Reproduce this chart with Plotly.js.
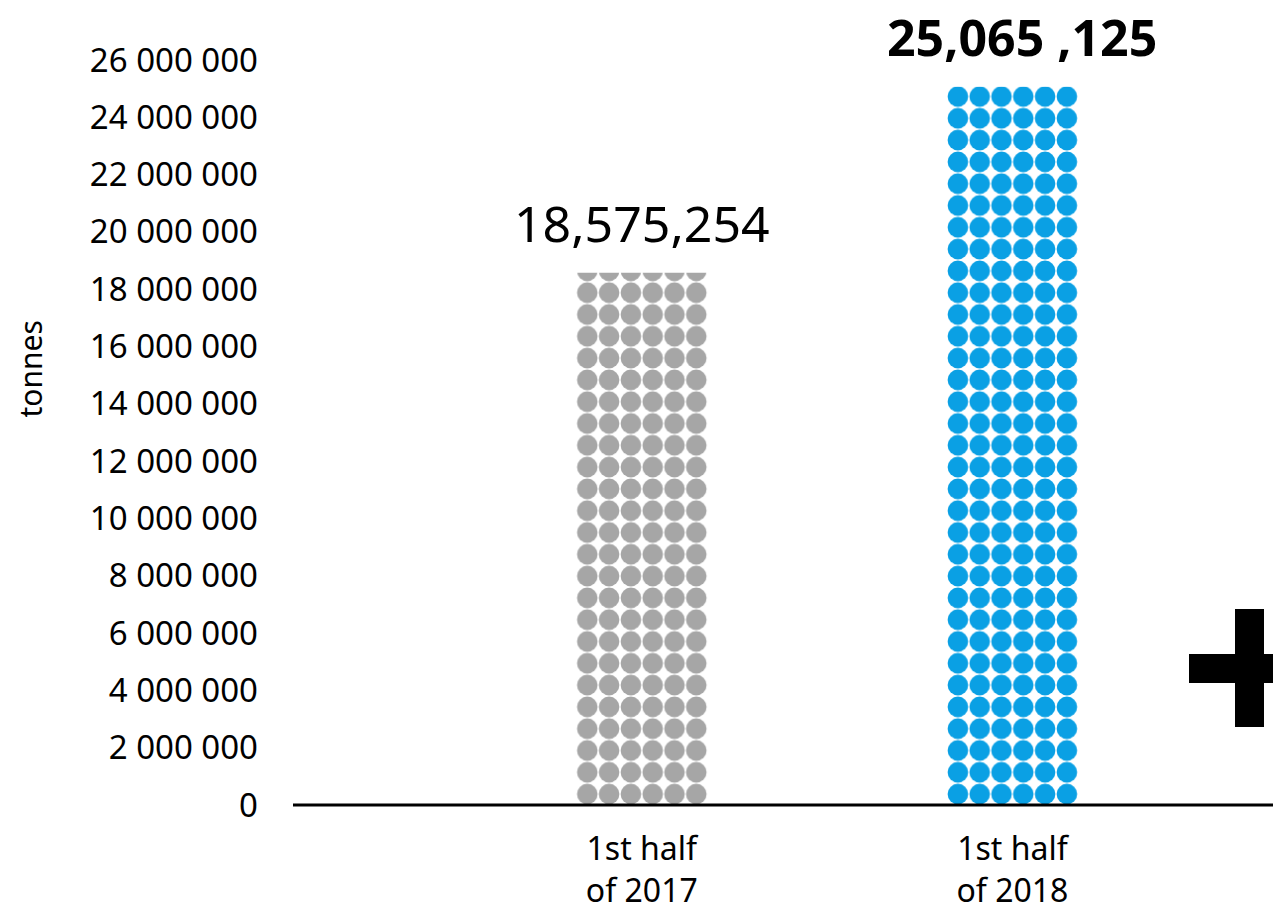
<!DOCTYPE html>
<html>
<head>
<meta charset="utf-8">
<script src="https://cdn.plot.ly/plotly-3.0.1.min.js"></script>
<style>
  html, body { margin: 0; padding: 0; background: #ffffff; }
  #chart { width: 1273px; height: 915px; }
</style>
</head>
<body>
<div id="chart"></div>
<script>
// ---- data ----
const categories = ['1st half<br>of 2017', '1st half<br>of 2018'];
const tonnes = [18575254, 25065125];
const valueLabels = ['18,575,254', '25,065 ,125'];
const barColors = ['#a6a6a6', '#0aa0e4'];
const yAxisTitle = 'tonnes';

// ---- layout geometry ----
const W = 1273, H = 915;
const M = { l: 293, r: 0, t: 42, b: 110 };
const plotW = W - M.l - M.r;
const plotH = H - M.t - M.b;
const tile = 21.8;            // dot pattern cell (px)
const tilesPerUnit = 17;      // distance between bar lefts in tiles
const barTiles = 6;           // dots across a bar
const xStart = -16 / tilesPerUnit;
const xEnd = xStart + plotW / tile / tilesPerUnit;
const yMax = 26000000 * plotH / (plotH - 18);

function px2paperX(px) { return (px - M.l) / plotW; }
function px2paperY(py) { return (H - M.b - py) / plotH; }

const font = 'Noto Sans, Open Sans, sans-serif';

const trace = {
  type: 'bar',
  x: categories,
  y: tonnes,
  width: barTiles / tilesPerUnit,
  marker: {
    color: barColors,
    line: { width: 0 },
    pattern: {
      shape: '.',
      size: tile,
      solidity: 0.7,
      fillmode: 'replace',
      bgcolor: 'rgba(255,255,255,0)'
    }
  },
  hoverinfo: 'skip',
  cliponaxis: false
};

const annotations = tonnes.map((v, i) => ({
  x: categories[i],
  y: v,
  xref: 'x',
  yref: 'y',
  text: valueLabels[i],
  showarrow: false,
  xanchor: 'center',
  yanchor: 'bottom',
  yshift: 14,
  xshift: i === 1 ? 10 : 0,
  font: { family: font, size: 50, color: '#000', weight: i === 1 ? 700 : 400 }
}));

annotations.push({
  xref: 'paper', yref: 'paper',
  x: px2paperX(29.5), y: px2paperY(369),
  xanchor: 'center', yanchor: 'middle',
  text: yAxisTitle,
  textangle: -90,
  showarrow: false,
  font: { family: font, size: 30, color: '#000' }
});

const shapes = [
  // baseline
  { type: 'line', xref: 'paper', yref: 'paper', x0: 0, x1: 1, y0: 0, y1: 0,
    line: { color: '#000', width: 3 }, layer: 'above' },
  // decorative plus sign at the right edge
  { type: 'rect', xref: 'paper', yref: 'paper',
    x0: px2paperX(1235), x1: px2paperX(1264), y0: px2paperY(727), y1: px2paperY(609),
    fillcolor: '#000', line: { width: 0 } },
  { type: 'rect', xref: 'paper', yref: 'paper',
    x0: px2paperX(1189), x1: px2paperX(1280), y0: px2paperY(683), y1: px2paperY(654),
    fillcolor: '#000', line: { width: 0 } }
];

const layout = {
  width: W,
  height: H,
  margin: M,
  showlegend: false,
  paper_bgcolor: '#ffffff',
  plot_bgcolor: '#ffffff',
  separators: '. ',
  font: { family: font, color: '#000' },
  xaxis: {
    type: 'category',
    range: [xStart, xEnd],
    showgrid: false,
    zeroline: false,
    showline: false,
    ticks: '',
    ticklabelstandoff: 22,
    tickfont: { family: font, size: 32, color: '#000' },
    automargin: false,
    fixedrange: true
  },
  yaxis: {
    range: [0, yMax],
    dtick: 2000000,
    tick0: 0,
    tickformat: ',d',
    showgrid: false,
    zeroline: false,
    showline: false,
    ticks: '',
    ticklabelstandoff: 34,
    tickfont: { family: font, size: 33, color: '#000' },
    automargin: false,
    fixedrange: true
  },
  annotations: annotations,
  shapes: shapes
};

Plotly.newPlot('chart', [trace], layout, { displayModeBar: false, staticPlot: true });
</script>
</body>
</html>
